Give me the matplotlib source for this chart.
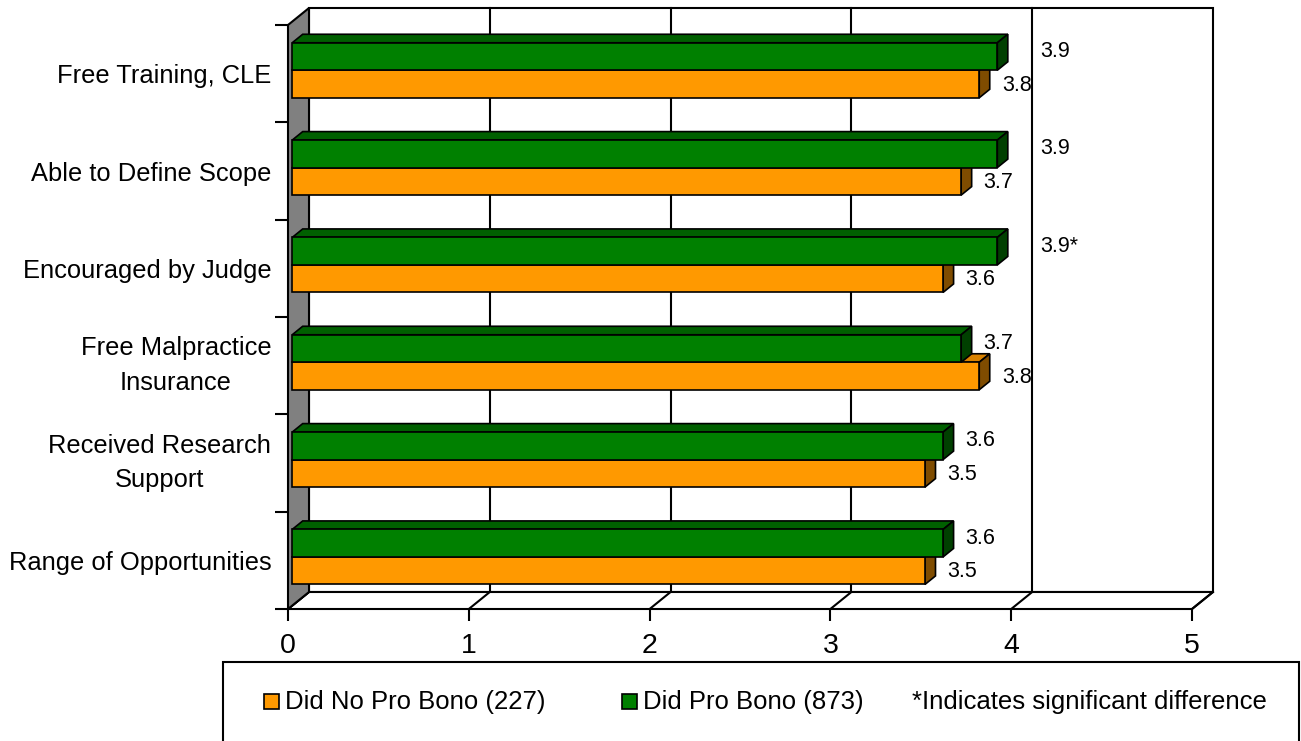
import matplotlib.pyplot as plt
from matplotlib.patches import Polygon, Rectangle

plt.rcParams['font.family'] = ['Liberation Sans', 'DejaVu Sans']

# 各项激励因素的平均评分
categories = ['Free Training, CLE', 'Able to Define Scope', 'Encouraged by Judge',
              'Free Malpractice\nInsurance', 'Received Research\nSupport', 'Range of Opportunities']
pro_bono = [3.9, 3.9, 3.9, 3.7, 3.6, 3.6]
no_pro_bono = [3.8, 3.7, 3.6, 3.8, 3.5, 3.5]
significant = [False, False, True, False, False, False]
legend_labels = ['Did No Pro Bono (227)', 'Did Pro Bono (873)', '*Indicates significant difference']
xticks = [0, 1, 2, 3, 4, 5]

# 颜色：正面 / 顶面 / 侧面
orange = ('#FF9900', '#D98200', '#7F4C00')
green = ('#008000', '#006000', '#004000')

W, H = 1301, 741
fig = plt.figure(figsize=(W / 100, H / 100), dpi=100)
ax = fig.add_axes([288 / W, (H - 609) / H, 904 / W, 584 / H])
n = len(categories)
xmax = xticks[-1]
ax.set_xlim(0, xmax)
ax.set_ylim(n - 0.5, -0.5)

# 每像素对应的数据单位
ux = xmax / 904
uy = n / 584
# 立体框的深度
dx, dy = 21 * ux, -17 * uy
ylo, yhi = -0.5, n - 0.5
lw = 1.5

# 背墙
ax.add_patch(Rectangle((dx, ylo + dy), xmax, n, fc='white', ec='black', lw=lw, zorder=0, clip_on=False))
for t in xticks[1:-1]:
    ax.plot([t + dx, t + dx], [ylo + dy, yhi + dy], color='black', lw=lw, zorder=1, clip_on=False)
# 底面
ax.add_patch(Polygon([(0, yhi), (xmax, yhi), (xmax + dx, yhi + dy), (dx, yhi + dy)],
                     fc='white', ec='black', lw=lw, zorder=1, clip_on=False, joinstyle='miter'))
for t in xticks:
    ax.plot([t, t + dx], [yhi, yhi + dy], color='black', lw=lw, zorder=1, clip_on=False)
# 左墙
ax.add_patch(Polygon([(0, ylo), (dx, ylo + dy), (dx, yhi + dy), (0, yhi)],
                     fc='#808080', ec='black', lw=lw, zorder=1, clip_on=False, joinstyle='miter'))

# 柱子
bh = 27.5 * uy
fx, fy = 0.2 * dx, 0.2 * dy
bx, by = 0.5 * dx, 0.5 * dy


def bars3d(vals, tops, colors, z):
    front, top, side = colors
    ax.barh([t + fy for t in tops], vals, height=bh, left=fx, align='edge',
            color=front, edgecolor='black', lw=1.2, zorder=z + 0.2)
    for y0, v in zip(tops, vals):
        y0 = y0 + fy
        x1 = fx + v
        ax.add_patch(Polygon([(fx, y0), (x1, y0), (x1 + bx, y0 + by), (fx + bx, y0 + by)],
                             fc=top, ec='black', lw=1.2, zorder=z))
        ax.add_patch(Polygon([(x1, y0), (x1 + bx, y0 + by), (x1 + bx, y0 + bh + by), (x1, y0 + bh)],
                             fc=side, ec='black', lw=1.2, zorder=z))


ypos = list(range(n))
bars3d(no_pro_bono, [y for y in ypos], orange, 3)
bars3d(pro_bono, [y - bh for y in ypos], green, 4)

# 数值标签，避开第4条网格线
wall4 = 4 + dx


def label_x(v):
    x = fx + v + bx + 12 * ux
    if x < wall4 < x + 0.15:
        x = wall4 + 8 * ux
    return x


for i in ypos:
    gy = i - bh / 2 + fy - 5 * uy
    oy = i + bh / 2 + fy + 1 * uy
    txt = f'{pro_bono[i]:.1f}' + ('*' if significant[i] else '')
    ax.text(label_x(pro_bono[i]), gy, txt, fontsize=15.5, va='center', ha='left', zorder=6)
    ax.text(label_x(no_pro_bono[i]), oy, f'{no_pro_bono[i]:.1f}', fontsize=15.5, va='center', ha='left', zorder=6)

# 坐标轴
for s in ax.spines.values():
    s.set_visible(False)
ax.set_xticks(xticks)
ax.set_xticklabels([str(t) for t in xticks])
ax.tick_params(axis='x', length=8.6, width=lw, labelsize=20.5, pad=9)
ax.set_yticks(ypos)
ax.set_yticklabels(categories, multialignment='center', linespacing=1.55)
for lab in ax.get_yticklabels():
    if '\n' in lab.get_text():
        lab.set_va('center')
ax.set_yticks([y - 0.5 for y in range(n + 1)], minor=True)
ax.tick_params(axis='y', which='major', length=0, labelsize=18.4, pad=12)
ax.tick_params(axis='y', which='minor', length=9.4, width=lw)
ax.set_axisbelow(False)

# 图例
def fx_(px):
    return px / W


def fy_(py):
    return (H - py) / H


fig.patches.append(Rectangle((fx_(223), -0.05), fx_(1299) - fx_(223), fy_(662) + 0.05,
                             transform=fig.transFigure, fc='white', ec='black', lw=lw))
legend_x = [264, 622, 912]
legend_colors = [orange[0], green[0], None]
for x, lab, c in zip(legend_x, legend_labels, legend_colors):
    tx = x
    if c is not None:
        fig.patches.append(Rectangle((fx_(x), fy_(709)), 15 / W, 15 / H, transform=fig.transFigure,
                                     fc=c, ec='black', lw=1.2))
        tx = x + 21
    fig.text(fx_(tx), fy_(702), lab, fontsize=18.5, va='center', ha='left')

fig.savefig('out.png', dpi=100, facecolor='white')
